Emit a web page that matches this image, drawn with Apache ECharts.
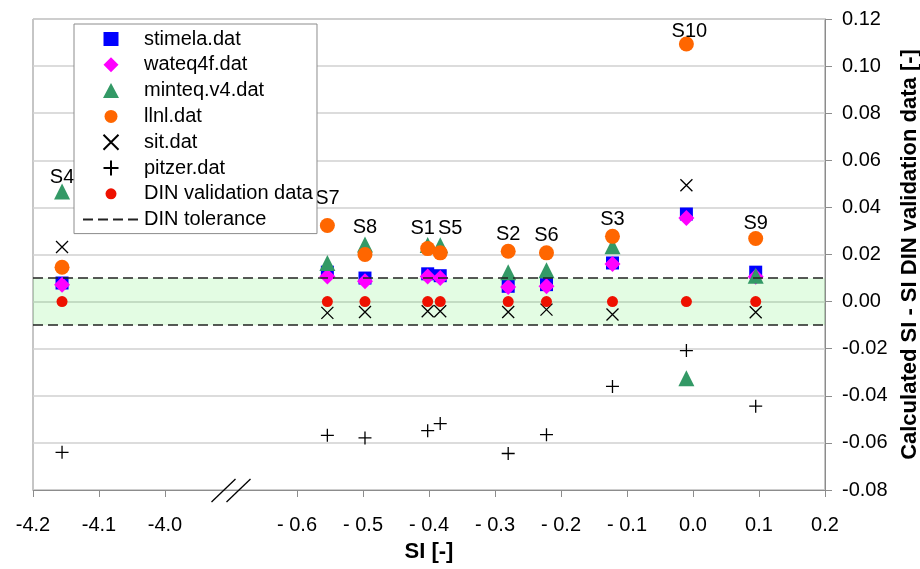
<!DOCTYPE html>
<html>
<head>
<meta charset="utf-8">
<script src="https://cdn.jsdelivr.net/npm/echarts@6/dist/echarts.min.js"></script>
<style>html,body{margin:0;padding:0;background:#fff;}#chart{width:920px;height:569px;}</style>
</head>
<body>
<div id="chart"></div>
<script>
// ---- data ----
const stations = ['S4','S7','S8','S1','S5','S2','S6','S3','S10','S9'];
const siValues = [-4.156, -0.554, -0.497, -0.402, -0.383, -0.280, -0.222, -0.122, -0.010, 0.095];
const stimela = [0.0079, 0.0125, 0.0100, 0.0118, 0.0110, 0.0065, 0.0072, 0.0164, 0.0372, 0.0125];
const wateq4f = [0.0072, 0.0107, 0.0086, 0.0107, 0.0100, 0.0062, 0.0065, 0.0160, 0.0355, 0.0105];
const minteq = [0.0468, 0.0164, 0.0242, 0.0240, 0.0239, 0.0125, 0.0133, 0.0235, -0.0326, 0.0110];
const llnl = [0.0146, 0.0323, 0.0200, 0.0225, 0.0207, 0.0214, 0.0207, 0.0277, 0.1094, 0.0268];
const sit = [0.0232, -0.0048, -0.0044, -0.0041, -0.0041, -0.0044, -0.0034, -0.0055, 0.0494, -0.0045];
const pitzer = [-0.0640, -0.0568, -0.0579, -0.0548, -0.0518, -0.0645, -0.0565, -0.0360, -0.0208, -0.0444];
const dinValidation = [0, 0, 0, 0, 0, 0, 0, 0, 0, 0];
const dinTolerance = [-0.01, 0.01];
const xTickValues = [-4.2, -4.1, -4.0, -0.6, -0.5, -0.4, -0.3, -0.2, -0.1, 0.0, 0.1, 0.2];
const xTickLabels = ['-4.2', '-4.1', '-4.0', '- 0.6', '- 0.5', '- 0.4', '- 0.3', '- 0.2', '- 0.1', '0.0', '0.1', '0.2'];
const yMin = -0.08, yMax = 0.12, yStep = 0.02;
const seriesNames = ['stimela.dat','wateq4f.dat','minteq.v4.dat','llnl.dat','sit.dat','pitzer.dat','DIN validation data','DIN tolerance'];

// broken axis: the -4.2..-4.0 segment is shifted next to -0.6
const BREAK_SHIFT = 3.2;
function tx(v) { const t = v < -2 ? v + BREAK_SHIFT : v; return Math.round(t * 1e6) / 1e6; }
const xTickPos = xTickValues.map(tx);

const FONT = 'Liberation Sans, Arial, sans-serif';
const pts = arr => arr.map((y, i) => [tx(siValues[i]), y]);

const chart = echarts.init(document.getElementById('chart'), null, {renderer: 'canvas'});

function scatter(name, data, symbol, size, style) {
  return { name, type: 'scatter', data: pts(data), symbol, symbolSize: size, symbolKeepAspect: true,
    itemStyle: Object.assign({ opacity: 1 }, style), z: 3 };
}

const topVals = stations.map((s, i) => Math.max(stimela[i], wateq4f[i], minteq[i], llnl[i], sit[i], pitzer[i], dinValidation[i]));
// station-label placement tweaks (styling only)
const labelAdjust = {
  S4: { distance: 3 }, S7: { distance: 16 }, S1: { offset: [-5, 0] }, S5: { offset: [10, 0] },
  S10: { distance: 1, offset: [3, 0] }, S9: { distance: 4 }
};
// legend icons padded to the 56x15 legend item box so they keep their shape
const legendIcons = {
  'stimela.dat': 'path://M0,0M56,15M20.5,0.5h15v14h-15z',
  'wateq4f.dat': 'path://M0,0M56,15M28,0L35.5,7.5L28,15L20.5,7.5z',
  'minteq.v4.dat': 'path://M0,0M56,15M28,0L36,15L20,15z',
  'llnl.dat': 'path://M0,0M56,15M34.5,7.5A6.5,6.5,0,1,1,21.5,7.5A6.5,6.5,0,1,1,34.5,7.5z',
  'DIN validation data': 'path://M0,0M56,15M33.5,7.5A5.5,5.5,0,1,1,22.5,7.5A5.5,5.5,0,1,1,33.5,7.5z'
};

const option = {
  animation: false,
  backgroundColor: '#fff',
  textStyle: { fontFamily: FONT },
  grid: { left: 33, right: 95, top: 19, bottom: 79, outerBoundsMode: 'none', containLabel: false,
    show: true, borderColor: '#8c8c8c', borderWidth: 1, backgroundColor: 'transparent' },
  legend: {
    orient: 'vertical', left: 74, top: 24,
    padding: [5, 4, 4, 8],
    itemWidth: 56, itemHeight: 15, itemGap: 5.8,
    backgroundColor: '#fff', borderColor: '#8c8c8c', borderWidth: 1, borderRadius: 0,
    textStyle: { fontSize: 20, color: '#000', fontFamily: FONT },
    itemStyle: { opacity: 1 },
    data: seriesNames.map(n => legendIcons[n] ? { name: n, icon: legendIcons[n] } : n),
    z: 10
  },
  xAxis: {
    type: 'value', min: -1.0, max: 0.2, interval: 0.1,
    name: 'SI [-]', nameLocation: 'middle', nameGap: 51,
    nameTextStyle: { fontSize: 22, fontWeight: 'bold', color: '#000', fontFamily: FONT },
    axisLine: { show: true, onZero: false, lineStyle: { color: '#8c8c8c', width: 1 } },
    axisTick: { show: true, length: 7, customValues: xTickPos, lineStyle: { color: '#8c8c8c' } },
    axisLabel: {
      customValues: xTickPos, margin: 25, fontSize: 20, color: '#000', fontFamily: FONT,
      formatter: v => { const i = xTickPos.findIndex(p => Math.abs(p - v) < 1e-6); return i >= 0 ? xTickLabels[i] : ''; }
    },
    splitLine: { show: false }
  },
  yAxis: {
    type: 'value', position: 'right', min: yMin, max: yMax, interval: yStep,
    name: 'Calculated SI - SI DIN validation data [-]', nameLocation: 'middle', nameRotate: 90, nameGap: 70,
    nameTextStyle: { fontSize: 22, fontWeight: 'bold', color: '#000', fontFamily: FONT },
    axisLine: { show: true, onZero: false, lineStyle: { color: '#8c8c8c', width: 1 } },
    axisTick: { show: true, length: 7, lineStyle: { color: '#8c8c8c' } },
    axisLabel: { margin: 17, fontSize: 20, color: '#000', fontFamily: FONT, formatter: v => v.toFixed(2) },
    splitLine: { show: true, lineStyle: { color: '#d0d0d0', width: 1.5 } }
  },
  series: [
    {
      name: 'DIN tolerance', type: 'line', data: [], symbol: 'none',
      itemStyle: { color: 'transparent', borderWidth: 0 },
      lineStyle: { color: '#222', width: 1.5, type: [10, 5] },
      markArea: { silent: true, itemStyle: { color: 'rgba(0,225,0,0.11)' }, data: [[{ yAxis: dinTolerance[0] }, { yAxis: dinTolerance[1] }]] },
      markLine: { silent: true, symbol: ['none', 'none'], label: { show: false },
        lineStyle: { color: '#222', width: 1.5, type: [10, 5] },
        data: dinTolerance.map(v => ({ yAxis: v })) }
    },
    scatter('stimela.dat', stimela, 'rect', 13, { color: '#0000FF' }),
    scatter('wateq4f.dat', wateq4f, 'diamond', 16, { color: '#FF00FF' }),
    scatter('minteq.v4.dat', minteq, 'triangle', 16, { color: '#339966' }),
    scatter('llnl.dat', llnl, 'circle', 15, { color: '#FF6600' }),
    scatter('sit.dat', sit, 'path://M0,0L10,10M10,0L0,10', 12, { color: 'transparent', borderColor: '#000', borderWidth: 1.3 }),
    scatter('pitzer.dat', pitzer, 'path://M5,0L5,10M0,5L10,5', 13, { color: 'transparent', borderColor: '#000', borderWidth: 1.3 }),
    scatter('DIN validation data', dinValidation, 'circle', 11, { color: '#EE1100' }),
    {
      name: 'stations', type: 'scatter', symbolSize: 2, itemStyle: { color: 'transparent', opacity: 1 }, z: 4,
      label: { show: true, position: 'top', distance: 6, fontSize: 20, color: '#000', opacity: 1, fontFamily: FONT, formatter: p => p.name },
      data: stations.map((s, i) => ({ name: s, value: [tx(siValues[i]), topVals[i]], label: labelAdjust[s] }))
    }
  ]
};
chart.setOption(option);

// axis-break marks "//" centred between -4.0 and -0.6
const bx = chart.convertToPixel({ xAxisIndex: 0, yAxisIndex: 0 }, [(tx(-4.0) + tx(-0.6)) / 2, yMin]);
const brk = [-7.5, 7.5].map(off => ({
  type: 'line', z: 20,
  shape: { x1: bx[0] + off - 12, y1: bx[1] + 12, x2: bx[0] + off + 12, y2: bx[1] - 11 },
  style: { stroke: '#000', lineWidth: 1.3 }
}));
chart.setOption({ graphic: brk });
</script>
</body>
</html>
